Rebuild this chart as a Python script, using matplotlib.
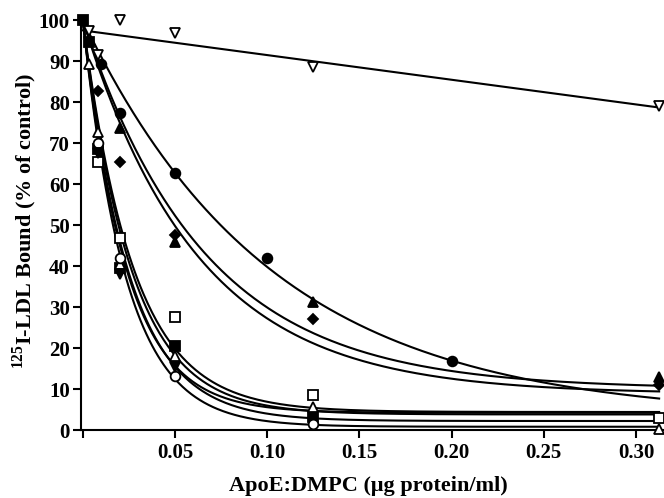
import numpy as np
import matplotlib
matplotlib.use("Agg")
import matplotlib.pyplot as plt

plt.rcParams['font.family'] = ['Liberation Serif', 'DejaVu Serif']
plt.rcParams['font.weight'] = 'bold'
plt.rcParams['mathtext.fontset'] = 'custom'
plt.rcParams['mathtext.rm'] = 'Liberation Serif:bold'
plt.rcParams['mathtext.bf'] = 'Liberation Serif:bold'

# measured points, one list pair per series
x_top = [0.0032, 0.008, 0.02, 0.05, 0.125, 0.3125]
y_top = [97.4, 91.5, 100, 96.9, 88.5, 79.0]

x_circ = [0.01, 0.02, 0.05, 0.1, 0.2]
y_circ = [89.4, 77.4, 62.7, 41.9, 16.8]

x_tri = [0.02, 0.05, 0.125, 0.3125]
y_tri = [73.7, 45.9, 31.3, 12.9]

x_dia = [0.008, 0.02, 0.05, 0.125, 0.3125]
y_dia = [82.8, 65.4, 47.6, 27.0, 11.1]

x_osq = [0.008, 0.02, 0.05, 0.125, 0.3125]
y_osq = [65.4, 46.8, 27.6, 8.5, 3.0]

x_fsq = [0, 0.0032, 0.008, 0.02, 0.05, 0.125]
y_fsq = [100, 94.7, 68.5, 39.5, 20.6, 3.2]

x_otri = [0.0032, 0.008, 0.02, 0.05, 0.125, 0.3125]
y_otri = [89.2, 72.8, 40.5, 18.1, 5.7, 0.2]

x_ocirc = [0.008, 0.02, 0.05, 0.125]
y_ocirc = [70.0, 42.0, 13.2, 1.4]

x_fdown = [0.008, 0.02, 0.05]
y_fdown = [67.5, 38.0, 15.4]

# fitted line for the top series
top_fit = (97.5, -60.2)   # intercept, slope

# fitted decays: plateau, rate
fit_plateau = [3.0, 10.0, 8.8, 4.4, 3.8, 4.2, 2.2, 0.8]
fit_rate = [9.7, 15.1, 16.0, 36.5, 38.0, 42.5, 40.0, 42.9]

fig = plt.figure(figsize=(6.64, 4.98), dpi=100)
ax = fig.add_axes([0.122, 0.1365, 0.8776, 0.823])

xx = np.linspace(0, 0.3125, 400)
ax.plot(xx, top_fit[0] + top_fit[1] * xx, color='black', lw=1.5)
for p, k in zip(fit_plateau, fit_rate):
    ax.plot(xx, p + (100 - p) * np.exp(-k * xx), color='black', lw=1.5)

ms = 7
def pts(x, y, m, fill, size=ms):
    ax.plot(x, y, linestyle='none', marker=m, markersize=size,
            markerfacecolor=fill, markeredgecolor='black',
            markeredgewidth=1.3, clip_on=False, zorder=5)

pts(x_top, y_top, 'v', 'white')
pts(x_circ, y_circ, 'o', 'black')
pts(x_tri, y_tri, '^', 'black')
pts(x_dia, y_dia, 'D', 'black', 5.5)
pts(x_osq, y_osq, 's', 'white')
pts(x_fsq, y_fsq, 's', 'black')
pts(x_otri, y_otri, '^', 'white')
pts(x_ocirc, y_ocirc, 'o', 'white')
pts(x_fdown, y_fdown, 'v', 'black')

ax.set_xlim(-0.001, 0.315)
ax.set_ylim(0, 100)
ax.set_xticks([0, 0.05, 0.10, 0.15, 0.20, 0.25, 0.30])
ax.set_xticklabels(['', '0.05', '0.10', '0.15', '0.20', '0.25', '0.30'])
ax.set_yticks(range(0, 101, 10))
for s in ['top', 'right']:
    ax.spines[s].set_visible(False)
for s in ['left', 'bottom']:
    ax.spines[s].set_linewidth(1.5)
ax.tick_params(direction='out', length=6, width=1.5, labelsize=15, pad=3)
ax.tick_params(axis='y', pad=2)
for lab in ax.get_xticklabels() + ax.get_yticklabels():
    lab.set_fontweight('bold')

ax.set_xlabel('ApoE:DMPC (\u03bcg protein/ml)', fontsize=16, fontweight='bold')
ax.set_ylabel('$^{125}$I-LDL Bound (% of control)', fontsize=16, fontweight='bold')
ax.xaxis.set_label_coords(0.4925, -0.112)
ax.yaxis.set_label_coords(-0.072, 0.51)

fig.savefig('out.png', dpi=100)
